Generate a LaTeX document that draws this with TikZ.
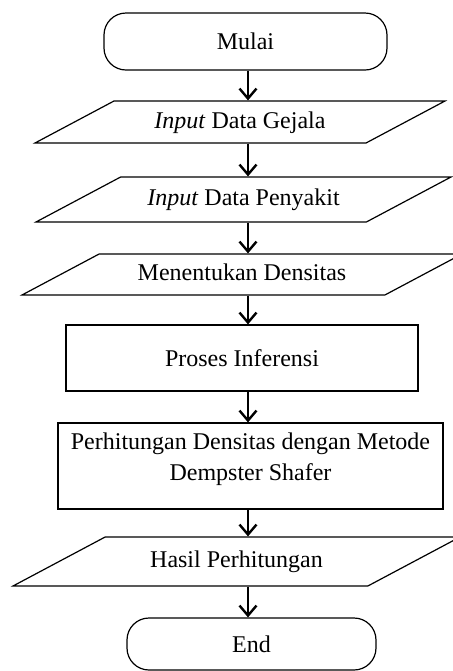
\documentclass[tikz,border=0pt]{standalone}
\usepackage{fontspec}
\setmainfont{Liberation Serif}
\usetikzlibrary{shapes.geometric, arrows.meta}

\begin{document}
\begin{tikzpicture}[x=0.5pt, y=-0.5pt,
    every node/.style={font=\fontsize{12}{15.5}\selectfont},
    terminal/.style={draw, rectangle, rounded corners=11pt, line width=0.6pt},
    io/.style={draw, trapezium, trapezium left angle=28, trapezium right angle=152,
        trapezium stretches body, text height=9pt, text depth=3pt, inner xsep=0pt, line width=0.6pt},
    process/.style={draw, rectangle, align=center, line width=0.6pt},
    flow/.style={-{Straight Barb[length=5pt, width=8.5pt]}, line width=1.2pt}]
    \useasboundingbox (0,0) rectangle (453,671);
    \clip (0,0) rectangle (453,671);
    \coordinate (axis) at (248,0);
    \node[terminal, minimum width=141.5pt, minimum height=28.5pt] (mulai) at (245.5,41.5) {Mulai};
    \node[io, inner ysep=4.5pt, minimum width=205pt] (gejala) at (240,122) {\textit{Input} Data Gejala};
    \node[io, inner ysep=5.25pt, minimum width=207.5pt] (penyakit) at (243.5,199.5) {\textit{Input} Data Penyakit};
    \node[io, inner ysep=4.25pt, minimum width=220pt] (densitas) at (242,274.5) {Menentukan Densitas};
    \node[process, minimum width=176pt, minimum height=33pt] (inferensi) at (242,358) {Proses Inferensi};
    \node[process, minimum width=192.5pt, minimum height=43pt, text depth=9pt] (hitung) at (250.5,466) {Perhitungan Densitas dengan Metode\\Dempster Shafer};
    \node[io, inner ysep=6.25pt, minimum width=223.5pt] (hasil) at (236.5,561.5) {Hasil Perhitungan};
    \node[terminal, minimum width=124.5pt, minimum height=26pt] (end) at (251.5,644) {End};
    \draw[flow] (mulai.south -| axis) -- (gejala.north -| axis);
    \draw[flow] (gejala.south -| axis) -- (penyakit.north -| axis);
    \draw[flow] (penyakit.south -| axis) -- (densitas.north -| axis);
    \draw[flow] (densitas.south -| axis) -- (inferensi.north -| axis);
    \draw[flow] (inferensi.south -| axis) -- (hitung.north -| axis);
    \draw[flow] (hitung.south -| axis) -- (hasil.north -| axis);
    \draw[flow] (hasil.south -| axis) -- (end.north -| axis);
\end{tikzpicture}
\end{document}
